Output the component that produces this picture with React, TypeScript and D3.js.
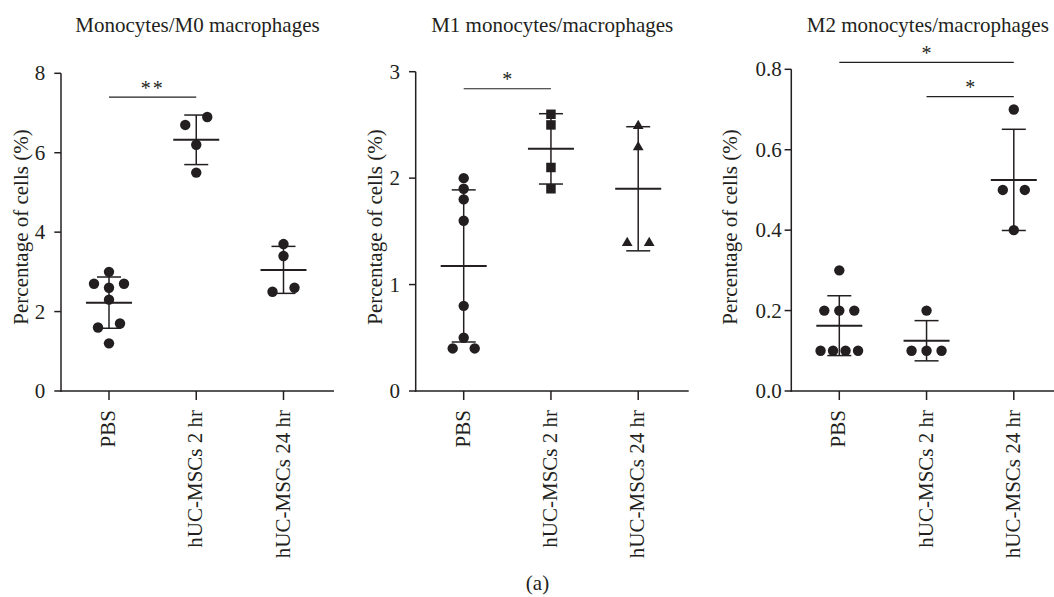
import React from 'react';
import * as d3 from 'd3';

// ---------- data ----------
const categories = ['PBS', 'hUC-MSCs 2 hr', 'hUC-MSCs 24 hr'];
const titles = ['Monocytes/M0 macrophages', 'M1 monocytes/macrophages', 'M2 monocytes/macrophages'];
const yLabel = 'Percentage of cells (%)';
const figureLabel = '(a)';

const m0PBS = [3.0, 2.6, 2.7, 2.7, 2.3, 1.6, 1.7, 1.2];
const m0H2 = [6.7, 6.9, 6.2, 5.5];
const m0H24 = [3.7, 3.4, 2.5, 2.6];

const m1PBS = [2.0, 1.9, 1.8, 1.6, 0.8, 0.5, 0.4, 0.4];
const m1H2 = [2.6, 2.5, 2.1, 1.9];
const m1H24 = [2.5, 2.3, 1.4, 1.4];

const m2PBS = [0.3, 0.2, 0.2, 0.2, 0.1, 0.1, 0.1, 0.1];
const m2H2 = [0.2, 0.1, 0.1, 0.1];
const m2H24 = [0.7, 0.5, 0.5, 0.4];

const m0Ticks = [0, 2, 4, 6, 8];
const m1Ticks = [0, 1, 2, 3];
const m2Ticks = [0, 0.2, 0.4, 0.6, 0.8];

const m0Sig = [{ from: 0, to: 1, level: 7.4, label: '**' }];
const m1Sig = [{ from: 0, to: 1, level: 2.84, label: '*' }];
const m2Sig = [
  { from: 0, to: 2, level: 0.817, label: '*' },
  { from: 1, to: 2, level: 0.732, label: '*' },
];

// ---------- layout / style ----------
const INK = '#231f20';
const FONT = '"Liberation Serif", "Times New Roman", serif';
const Y0 = 391;
const AXIS_LEN = 273;

const panels = [
  { title: titles[0], groups: [m0PBS, m0H2, m0H24], ticks: m0Ticks, fmt: d3.format('d'), sig: m0Sig,
    x0: 61, yTop: 73.3, tickLabOff: 15.7, yLabOff: 33.5, shapes: ['circle', 'circle', 'circle'] },
  { title: titles[1], groups: [m1PBS, m1H2, m1H24], ticks: m1Ticks, fmt: d3.format('d'), sig: m1Sig,
    x0: 415.7, yTop: 71.7, tickLabOff: 15.7, yLabOff: 33.5, shapes: ['circle', 'square', 'triangle'] },
  { title: titles[2], groups: [m2PBS, m2H2, m2H24], ticks: m2Ticks, fmt: d3.format('.1f'), sig: m2Sig,
    x0: 791.3, yTop: 69.3, tickLabOff: 9.6, yLabOff: 54, shapes: ['circle', 'circle', 'circle'] },
];

function swarmOffsets(values: number[], y: (v: number) => number): number[] {
  const order = values.map((_, i) => i).sort((a, b) => values[b] - values[a] || a - b);
  const rows: { start: number; items: number[] }[] = [];
  let cur: { start: number; items: number[] } | null = null;
  for (const i of order) {
    const py = y(values[i]);
    if (cur && Math.abs(py - cur.start) <= 9.5) cur.items.push(i);
    else { cur = { start: py, items: [i] }; rows.push(cur); }
  }
  const off = new Array(values.length).fill(0);
  for (const row of rows) {
    const items = row.items.slice().sort((a, b) => a - b);
    const n = items.length;
    if (n === 2) { off[items[0]] = -11; off[items[1]] = 11; }
    else if (n === 3) { off[items[0]] = 0; off[items[1]] = -15; off[items[2]] = 15; }
    else if (n > 3) items.forEach((it, k) => { off[it] = (k - (n - 1) / 2) * 12.5; });
  }
  return off;
}

const circleSym = d3.symbol(d3.symbolCircle, Math.PI * 5.2 * 5.2);
const squareSym = d3.symbol(d3.symbolSquare, 90);
const triSym = d3.symbol(d3.symbolTriangle, 50);

function Panel({ p }: { p: any }) {
  const y = d3.scaleLinear().domain([0, p.ticks[p.ticks.length - 1]]).range([Y0, p.yTop]);
  const x = d3.scalePoint<string>().domain(categories).range([p.x0 + 48, p.x0 + 222.5]);
  const xMid = p.x0 + AXIS_LEN / 2;
  return (
    <g>
      <text x={xMid} y={32} textAnchor="middle" fontSize={21} fontFamily={FONT} fill={INK}>{p.title}</text>
      <text transform={`translate(${p.x0 - p.yLabOff},227) rotate(-90)`} textAnchor="middle"
        fontSize={21} fontFamily={FONT} fill={INK}>{yLabel}</text>
      {/* axes */}
      <line x1={p.x0} x2={p.x0} y1={p.yTop} y2={Y0 + 0.75} stroke={INK} strokeWidth={1.5} />
      <line x1={p.x0 - 0.75} x2={p.x0 + AXIS_LEN} y1={Y0} y2={Y0} stroke={INK} strokeWidth={1.5} />
      {p.ticks.map((t: number) => (
        <g key={t}>
          <line x1={p.x0 - 6.7} x2={p.x0} y1={y(t)} y2={y(t)} stroke={INK} strokeWidth={1.5} />
          <text x={p.x0 - p.tickLabOff} y={y(t)} dy="0.34em" textAnchor="end" fontSize={21}
            fontFamily={FONT} fill={INK}>{p.fmt(t)}</text>
        </g>
      ))}
      {categories.map((c) => (
        <g key={c}>
          <line x1={x(c)} x2={x(c)} y1={Y0} y2={Y0 + 9} stroke={INK} strokeWidth={1.5} />
          <text transform={`translate(${(x(c) as number) + 6},410) rotate(-90)`} textAnchor="end"
            fontSize={21} fontFamily={FONT} fill={INK}>{c}</text>
        </g>
      ))}
      {/* points */}
      {p.groups.map((vals: number[], gi: number) => {
        const cx = x(categories[gi]) as number;
        const offs = swarmOffsets(vals, y);
        const shape = p.shapes[gi];
        const sym = shape === 'square' ? squareSym : shape === 'triangle' ? triSym : circleSym;
        return vals.map((v, i) => (
          <path key={`${gi}-${i}`} d={sym() as string}
            transform={`translate(${cx + offs[i]},${y(v) + (shape === 'triangle' ? 1 : 0)})`} fill={INK} />
        ));
      })}
      {/* mean ± SD */}
      {p.groups.map((vals: number[], gi: number) => {
        const cx = x(categories[gi]) as number;
        const m = d3.mean(vals) as number;
        const sd = d3.deviation(vals) as number;
        return (
          <g key={`e${gi}`} stroke={INK}>
            <line x1={cx} x2={cx} y1={y(m + sd)} y2={y(m - sd)} strokeWidth={1.5} />
            <line x1={cx - 12} x2={cx + 12} y1={y(m + sd)} y2={y(m + sd)} strokeWidth={1.5} />
            <line x1={cx - 12} x2={cx + 12} y1={y(m - sd)} y2={y(m - sd)} strokeWidth={1.5} />
            <line x1={cx - 23} x2={cx + 23} y1={y(m)} y2={y(m)} strokeWidth={2} />
          </g>
        );
      })}
      {/* significance */}
      {p.sig.map((s: any, si: number) => {
        const xa = x(categories[s.from]) as number;
        const xb = x(categories[s.to]) as number;
        const ly = y(s.level);
        return (
          <g key={`s${si}`}>
            <line x1={xa} x2={xb} y1={ly} y2={ly} stroke={INK} strokeWidth={1.2} />
            <text x={(xa + xb) / 2} y={ly - 2.5} textAnchor="middle" fontSize={20} fontFamily={FONT}
              fill={INK} letterSpacing={s.label.length > 1 ? 2 : 0}>{s.label}</text>
          </g>
        );
      })}
    </g>
  );
}

export default function App() {
  return (
    <svg width={1054} height={597} style={{ position: 'absolute', left: 0, top: 0, background: '#fff' }}>
      <rect width={1054} height={597} fill="#fff" />
      {panels.map((p, i) => <Panel key={i} p={p} />)}
      <text x={537.5} y={590} textAnchor="middle" fontSize={21} fontFamily={FONT} fill={INK}>{figureLabel}</text>
    </svg>
  );
}
